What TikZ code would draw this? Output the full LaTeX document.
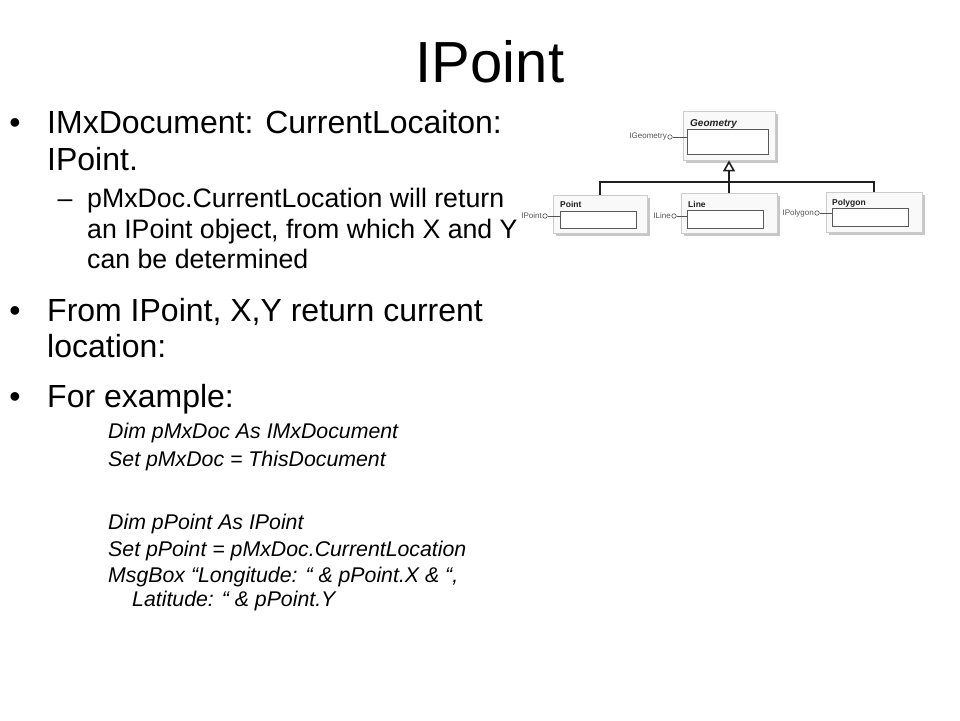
\documentclass[tikz,border=0pt]{standalone}
\usepackage{fontspec}
\setmainfont{Liberation Sans}
\usepackage{tikz}
\usetikzlibrary{
    arrows.meta,
    shadows,
    calc,
    positioning
}

\begin{document}
\begin{tikzpicture}[x=1pt, y=-1pt,
    title/.style={font=\fontsize{58}{60}\selectfont, inner sep=0, anchor=base},
    lone/.style={font=\fontsize{32}{36}\selectfont, inner sep=0, anchor=base west},
    ltwo/.style={font=\fontsize{26.7}{30}\selectfont, inner sep=0, anchor=base west},
    code/.style={font=\fontsize{21.3}{24}\selectfont\itshape, inner sep=0, anchor=base west},
    blt/.style={font=\fontsize{32}{36}\selectfont, inner sep=0, anchor=base},
    dsh/.style={font=\fontsize{26.7}{30}\selectfont, inner sep=0, anchor=base},
    cls/.style={draw=gray!40, fill=gray!5, line width=0.8pt, inner sep=0,
        drop shadow={shadow xshift=3pt, shadow yshift=-3pt, fill=gray!55, opacity=0.8}},
    slot/.style={draw=gray!70!black, fill=white, line width=0.7pt, inner sep=0},
    cname/.style={font=\fontsize{8.5}{9}\selectfont\bfseries, text=gray!25!black, inner sep=0, anchor=base west},
    iname/.style={font=\fontsize{8}{9}\selectfont, text=gray!65!black, inner sep=0, anchor=east},
    lolli/.style={circle, draw=gray!65!black, fill=white, minimum size=4.5pt, inner sep=0, line width=0.6pt},
    link/.style={draw=gray!25!black, line width=2.2pt}
]
\useasboundingbox (0,0) rectangle (960,720);

\node[title] (ttl) at (490, 82) {IPoint};

\node[blt] (d1) at (15, 133) {•};
\node[lone] (b1a) at (47, 133) {IMxDocument: CurrentLocaiton:};
\node[lone] (b1b) at (47, 170) {IPoint.};
\node[dsh] (s1) at (65, 207) {–};
\node[ltwo] (s1a) at (87, 207) {pMxDoc.CurrentLocation will return};
\node[ltwo] (s1b) at (87, 238) {an IPoint object, from which X and Y};
\node[ltwo] (s1c) at (87, 268) {can be determined};
\node[blt] (d2) at (15, 321) {•};
\node[lone] (b2a) at (47, 321) {From IPoint, X,Y return current};
\node[lone] (b2b) at (47, 357) {location:};
\node[blt] (d3) at (15, 407) {•};
\node[lone] (b3) at (47, 407) {For example:};

\node[code] (c1) at (108, 438) {Dim pMxDoc As IMxDocument};
\node[code] (c2) at (108, 466) {Set pMxDoc = ThisDocument};
\node[code] (c3) at (108, 529) {Dim pPoint As IPoint};
\node[code] (c4) at (108, 556) {Set pPoint = pMxDoc.CurrentLocation};
\node[code] (c5) at (108, 582) {MsgBox “Longitude: “ \& pPoint.X \& “,};
\node[code] (c6) at (132, 606) {Latitude: “ \& pPoint.Y};

\node[cls, minimum width=92pt, minimum height=49pt] (geo) at (729, 135.5) {};
\node[slot, minimum width=81pt, minimum height=25pt] (geos) at (727.5, 141.5) {};
\node[cname, font=\fontsize{10}{11}\selectfont\bfseries\itshape] (geot) at (690, 126) {Geometry};
\node[lolli] (igeo) at (670, 137) {};
\node[iname] (igeot) at (667, 137) {IGeometry};

\node[cls, minimum width=94pt, minimum height=38pt] (pt) at (600, 214) {};
\node[slot, minimum width=76pt, minimum height=17pt] (pts) at (598, 219.5) {};
\node[cname] (ptt) at (560, 207) {Point};
\node[lolli] (ipt) at (545, 216) {};
\node[iname] (iptt) at (542, 216) {IPoint};

\node[cls, minimum width=96pt, minimum height=40pt] (ln) at (729, 213) {};
\node[slot, minimum width=76pt, minimum height=18pt] (lns) at (725, 219) {};
\node[cname] (lnt) at (688, 207) {Line};
\node[lolli] (iln) at (674, 216) {};
\node[iname] (ilnt) at (671, 216) {ILine};

\node[cls, minimum width=96pt, minimum height=40pt] (pg) at (874, 212) {};
\node[slot, minimum width=76pt, minimum height=18pt] (pgs) at (870, 217) {};
\node[cname] (pgt) at (832, 205) {Polygon};
\node[lolli] (ipg) at (817, 213) {};
\node[iname] (ipgt) at (814, 213) {IPolygon};

\coordinate (bar) at (729, 182);
\draw[link]
(pt.north) |- (bar) -| (pg.north);
\draw[link, -{Triangle[open, length=11pt, width=12pt, line width=1.6pt]}]
(ln.north) -- (geo.south);
\draw[gray!65!black, line width=0.6pt]
(igeo) -- (igeo -| geos.west)
(ipt) -- (ipt -| pts.west)
(iln) -- (iln -| lns.west)
(ipg) -- (ipg -| pgs.west);
\end{tikzpicture}
\end{document}
